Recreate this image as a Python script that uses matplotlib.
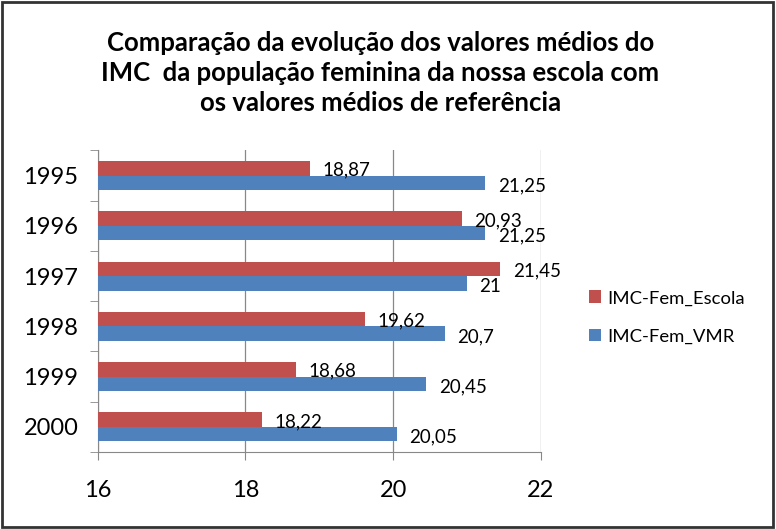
import numpy as np
import matplotlib
matplotlib.use('Agg')
import matplotlib.pyplot as plt
from matplotlib.patches import Rectangle

# Data
anos = ['1995', '1996', '1997', '1998', '1999', '2000']
imc_escola = [18.87, 20.93, 21.45, 19.62, 18.68, 18.22]
imc_vmr = [21.25, 21.25, 21, 20.7, 20.45, 20.05]
x_ticks = [16, 18, 20, 22]

cor_escola = '#C0504D'
cor_vmr = '#4F81BD'

plt.rcParams['font.family'] = ['Lato', 'DejaVu Sans']

fig = plt.figure(figsize=(7.76, 5.29), dpi=100)
ax = fig.add_axes([0.126, 0.1456, 0.571, 0.570])

y = np.arange(len(anos))
h = 0.29
base = 16
ax.barh(y - h / 2, np.array(imc_escola) - base, left=base, height=h,
        color=cor_escola, label='IMC-Fem_Escola', zorder=3)
ax.barh(y + h / 2, np.array(imc_vmr) - base, left=base, height=h,
        color=cor_vmr, label='IMC-Fem_VMR', zorder=3)

def fmt(v):
    s = ('%.2f' % v).rstrip('0').rstrip('.')
    return s.replace('.', ',')

for yi, v in zip(y, imc_escola):
    ax.text(v + 0.17, yi - h / 2 + 0.04, fmt(v), va='center', ha='left', fontsize=13.5)
for yi, v in zip(y, imc_vmr):
    ax.text(v + 0.17, yi + h / 2 + 0.06, fmt(v), va='center', ha='left', fontsize=13.5)

ax.set_xlim(16, 22)
ax.set_ylim(len(anos) - 0.5, -0.5)
ax.set_xticks(x_ticks)
ax.set_xticklabels([str(t) for t in x_ticks], fontsize=17)
ax.set_yticks(y)
ax.set_yticklabels(anos, fontsize=17)
ax.set_yticks(np.arange(-0.5, len(anos)), minor=True)
ax.tick_params(axis='y', which='major', length=0, pad=14)
ax.tick_params(axis='y', which='minor', length=6, color='#888888')
ax.tick_params(axis='x', length=6, color='#888888', pad=14, direction='out')
ax.grid(axis='x', color='#888888', linewidth=0.9, zorder=0)
for s in ['top', 'right']:
    ax.spines[s].set_visible(False)
for s in ['left', 'bottom']:
    ax.spines[s].set_color('#888888')

fig.text(0.49, 0.862,
         'Comparação da evolução dos valores médios do\n'
         'IMC  da população feminina da nossa escola com\n'
         'os valores médios de referência',
         ha='center', va='center', fontsize=18.5, fontweight='bold',
         linespacing=1.28)

leg = fig.legend(loc='center left', bbox_to_anchor=(0.737, 0.40), frameon=False,
                 fontsize=13.3, handlelength=0.7, handleheight=0.7,
                 handletextpad=0.3, labelspacing=1.2)

fig.patches.append(Rectangle((0.002, 0.004), 0.994, 0.992, transform=fig.transFigure,
                             fill=False, edgecolor='#333333', linewidth=2))

fig.savefig('out.png', dpi=100)
